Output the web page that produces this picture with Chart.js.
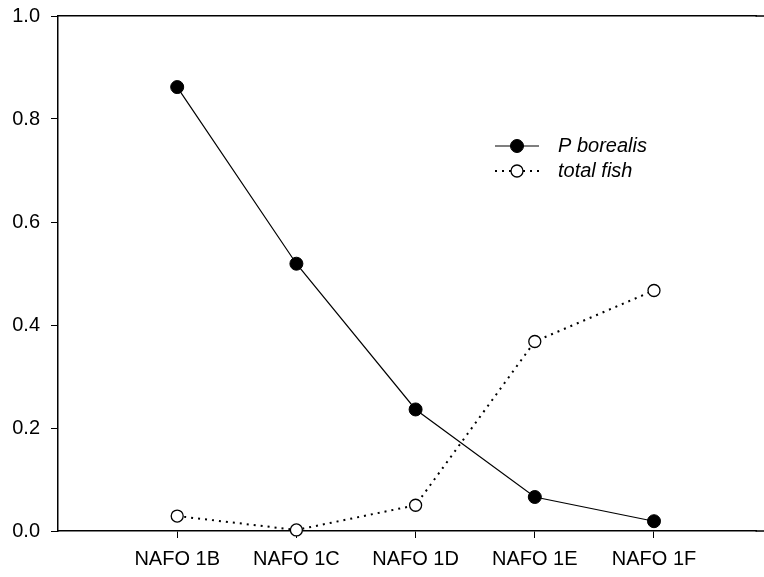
<!DOCTYPE html>
<html>
<head>
<meta charset="utf-8">
<script src="https://cdn.jsdelivr.net/npm/chart.js@4"></script>
<style>
  html, body { margin: 0; padding: 0; background: #fff; overflow: hidden; }
  canvas { display: block; }
</style>
</head>
<body>
<canvas id="chart" width="764" height="577"></canvas>
<script>
// data
const categories = ['NAFO 1B', 'NAFO 1C', 'NAFO 1D', 'NAFO 1E', 'NAFO 1F'];
const pBorealis = [0.862, 0.519, 0.236, 0.066, 0.019];
const totalFish = [0.029, 0.002, 0.050, 0.368, 0.467];
const yTicks = [0, 0.2, 0.4, 0.6, 0.8, 1.0];

const FONT = '"Liberation Sans", Arial, sans-serif';

// category index -> x position 1..n
function toPoints(values) {
  return values.map(function (v, i) { return { x: i + 1, y: v }; });
}

// legend drawn inside the plot, like the original
const insideLegend = {
  id: 'insideLegend',
  afterDraw: function (chart) {
    const ctx = chart.ctx;
    const area = chart.chartArea;
    ctx.save();
    // top and bottom frame lines run on to the right edge of the picture
    ctx.strokeStyle = '#000';
    ctx.lineWidth = 1.5;
    ctx.beginPath();
    ctx.moveTo(area.right - 1, area.top);
    ctx.lineTo(chart.width, area.top);
    ctx.moveTo(area.right - 1, area.bottom);
    ctx.lineTo(chart.width, area.bottom);
    ctx.stroke();

    const rows = [
      { ds: chart.data.datasets[0], y: 146 },
      { ds: chart.data.datasets[1], y: 171 }
    ];
    rows.forEach(function (r) {
      ctx.strokeStyle = '#000';
      ctx.lineWidth = r.ds.borderWidth;
      ctx.setLineDash(r.ds.borderDash || []);
      ctx.beginPath();
      ctx.moveTo(495, r.y);
      ctx.lineTo(539, r.y);
      ctx.stroke();
      ctx.setLineDash([]);
      ctx.beginPath();
      ctx.arc(517, r.y, r.ds.pointRadius, 0, Math.PI * 2);
      ctx.fillStyle = r.ds.pointBackgroundColor;
      ctx.fill();
      ctx.lineWidth = r.ds.pointBorderWidth;
      ctx.strokeStyle = '#000';
      ctx.stroke();
      ctx.fillStyle = '#000';
      ctx.font = 'italic 20px ' + FONT;
      ctx.textBaseline = 'middle';
      ctx.fillText(r.ds.label, 558, r.y);
    });
    ctx.restore();
  }
};

new Chart(document.getElementById('chart'), {
  type: 'line',
  data: {
    datasets: [{
      label: 'P borealis',
      data: toPoints(pBorealis),
      borderColor: '#000',
      borderWidth: 1.2,
      pointRadius: 6.5,
      pointBackgroundColor: '#000',
      pointBorderColor: '#000',
      pointBorderWidth: 1,
      clip: false
    }, {
      label: 'total fish',
      data: toPoints(totalFish),
      borderColor: '#000',
      borderWidth: 2,
      borderDash: [2, 5],
      pointRadius: 6,
      pointBackgroundColor: '#fff',
      pointBorderColor: '#000',
      pointBorderWidth: 1.3,
      clip: false
    }]
  },
  options: {
    responsive: false,
    animation: false,
    layout: { padding: 0 },
    plugins: {
      legend: { display: false },
      tooltip: { enabled: false }
    },
    scales: {
      x: {
        type: 'linear',
        position: 'bottom',
        min: 0,
        max: 5.86,
        afterBuildTicks: function (scale) {
          scale.ticks = categories.map(function (c, i) { return { value: i + 1 }; });
        },
        afterFit: function (scale) {
          scale.height = 46;
          scale.paddingLeft = 0;
          scale.paddingRight = 0;
        },
        ticks: {
          color: '#000',
          font: { family: FONT, size: 20 },
          padding: 9,
          maxRotation: 0,
          autoSkip: false,
          callback: function (v) { return categories[v - 1]; }
        },
        grid: { drawOnChartArea: false, drawTicks: true, tickLength: 7, color: '#000' },
        border: { display: true, color: '#000', width: 1.5 }
      },
      top: {
        type: 'linear',
        position: 'top',
        afterFit: function (scale) {
          scale.height = 16;
          scale.paddingLeft = 0;
          scale.paddingRight = 0;
        },
        ticks: { display: false },
        grid: { drawOnChartArea: false, drawTicks: false },
        border: { display: true, color: '#000', width: 1.5 }
      },
      y: {
        min: 0,
        max: 1,
        afterBuildTicks: function (scale) {
          scale.ticks = yTicks.map(function (v) { return { value: v }; });
        },
        afterFit: function (scale) {
          scale.width = 58;
          scale.paddingTop = 0;
          scale.paddingBottom = 0;
        },
        ticks: {
          color: '#000',
          font: { family: FONT, size: 20 },
          padding: 11,
          callback: function (v) { return v.toFixed(1); }
        },
        grid: { drawOnChartArea: false, drawTicks: true, tickLength: 7, color: '#000' },
        border: { display: true, color: '#000', width: 1.5 }
      }
    }
  },
  plugins: [insideLegend]
});
</script>
</body>
</html>
